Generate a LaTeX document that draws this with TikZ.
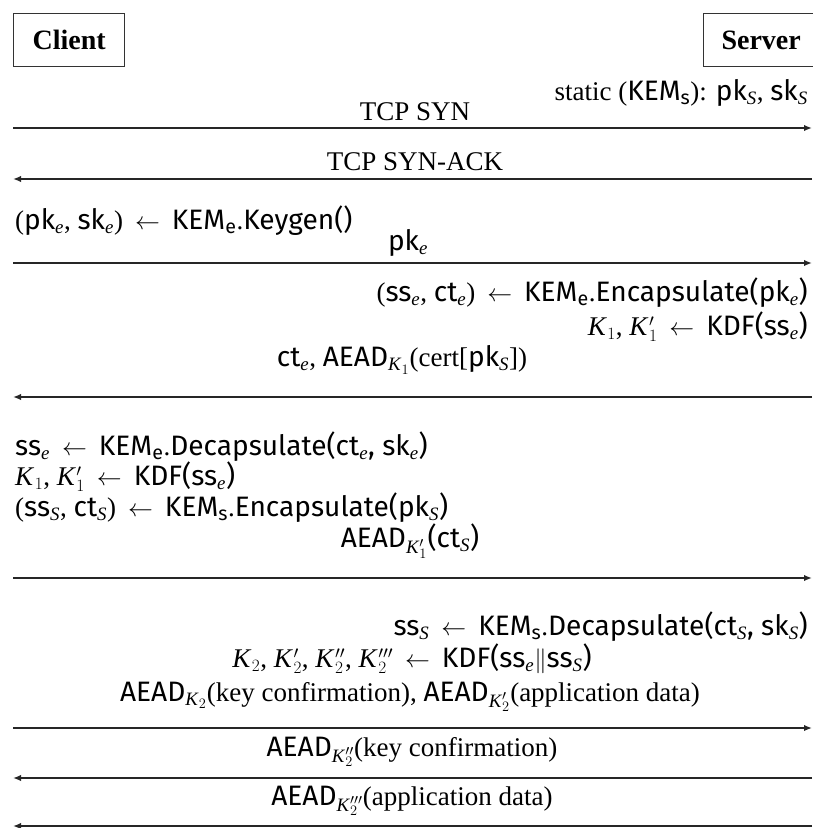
\documentclass[tikz,border=0pt]{standalone}
\usepackage{fontspec}
\setmainfont{Liberation Serif}
\newfontfamily\sanf[Scale=1.04]{Fira Sans}
\usetikzlibrary{arrows.meta}
\newcommand\tsf[1]{{\sanf #1}}
\newcommand\se{\textsubscript{\textit{e}}}
\newcommand\sS{\textsubscript{\textit{S}}}
\newcommand\ssm{\textsubscript{\sanf s}}
\newcommand\sme{\textsubscript{\sanf e}}
\newcommand\la{\;\,$\leftarrow$\;\,}
\newcommand\Kq[2]{\textit{K}\kern0.5pt$^{#2}_{#1}$}
\newcommand\Kn[1]{\textit{K}\kern0.5pt$_{#1}$}
\tikzset{
  actor/.style={draw=black!80, line width=1.3pt, inner sep=0pt, minimum height=53pt,
    font=\fontsize{28}{32}\selectfont\bfseries},
  lbl/.style={inner sep=0pt, font=\fontsize{27}{32}\selectfont},
  msg/.style={draw=black!85, line width=1.8pt, -{Latex[length=8pt,width=6.5pt]}},
}
\begin{document}
\begin{tikzpicture}[x=1pt,y=-1pt]
\useasboundingbox (0,0) rectangle (813,828);
% actors
\node[actor, minimum width=111pt, anchor=north west] (client) at (13,13) {Client};
\node[actor, minimum width=115pt, anchor=north west] (server) at (703,13) {Server};
% lifeline end points
\foreach \n/\y in {1/128,2/179,3/263,4/397,5/578,6/728,7/778,8/826}{
  \coordinate (c\n) at (13,\y);
  \coordinate (s\n) at (812,\y);
}
% texts
\node[lbl, anchor=east] (stat) at (808,93) {static (\tsf{KEM}\ssm): \tsf{pk}\sS, \tsf{sk}\sS};
\node[lbl] (syn) at (415,112) {TCP SYN};
\node[lbl] (synack) at (415,162) {TCP SYN-ACK};
\node[lbl, anchor=west] (keygen) at (15,221) {(\tsf{pk}\se, \tsf{sk}\se)\la\tsf{KEM}\sme.\tsf{Keygen()}};
\node[lbl] (pke) at (408,243) {\tsf{pk}\se};
\node[lbl, anchor=east] (encE) at (808,293) {(\tsf{ss}\se, \tsf{ct}\se)\la\tsf{KEM}\sme.\tsf{Encapsulate(pk}\se\tsf{)}};
\node[lbl, anchor=east] (kdf1s) at (808,327) {\Kn{1}, \Kq{1}{\prime}\la\tsf{KDF(ss}\se\tsf{)}};
\node[lbl] (cert) at (402,360) {\tsf{ct}\se, \tsf{AEAD}\textsubscript{\textit{K}$_1$}(cert[\tsf{pk}\sS])};
\node[lbl, anchor=west] (decE) at (15,447) {\tsf{ss}\se\la\tsf{KEM}\sme.\tsf{Decapsulate(ct}\se\tsf{, sk}\se\tsf{)}};
\node[lbl, anchor=west] (kdf1c) at (15,477) {\Kn{1}, \Kq{1}{\prime}\la\tsf{KDF(ss}\se\tsf{)}};
\node[lbl, anchor=west] (encS) at (15,508) {(\tsf{ss}\sS, \tsf{ct}\sS)\la\tsf{KEM}\ssm.\tsf{Encapsulate(pk}\sS\tsf{)}};
\node[lbl] (ctS) at (410,541) {\tsf{AEAD}\textsubscript{\textit{K}$^{\prime}_{1}$}\tsf{(ct}\sS\tsf{)}};
\node[lbl, anchor=east] (decS) at (808,627) {\tsf{ss}\sS\la\tsf{KEM}\ssm.\tsf{Decapsulate(ct}\sS\tsf{, sk}\sS\tsf{)}};
\node[lbl] (kdf2) at (412,659) {\Kn{2}, \Kq{2}{\prime}, \Kq{2}{\prime\prime}, \Kq{2}{\prime\prime\prime}\la\tsf{KDF(ss}\se$\|$\tsf{ss}\sS\tsf{)}};
\node[lbl] (app1) at (410,697) {\tsf{AEAD}\textsubscript{\textit{K}$_2$}(key confirmation), \tsf{AEAD}\textsubscript{\textit{K}$^{\prime}_2$}(application data)};
\node[lbl] (kc) at (412,752) {\tsf{AEAD}\textsubscript{\textit{K}$^{\prime\prime}_2$}(key confirmation)};
\node[lbl] (app2) at (412,801) {\tsf{AEAD}\textsubscript{\textit{K}$^{\prime\prime\prime}_2$}(application data)};
% messages
\draw[msg] (c1) -- (s1);
\draw[msg] (s2) -- (c2);
\draw[msg] (c3) -- (s3);
\draw[msg] (s4) -- (c4);
\draw[msg] (c5) -- (s5);
\draw[msg] (c6) -- (s6);
\draw[msg] (s7) -- (c7);
\draw[msg] (s8) -- (c8);
\end{tikzpicture}
\end{document}
